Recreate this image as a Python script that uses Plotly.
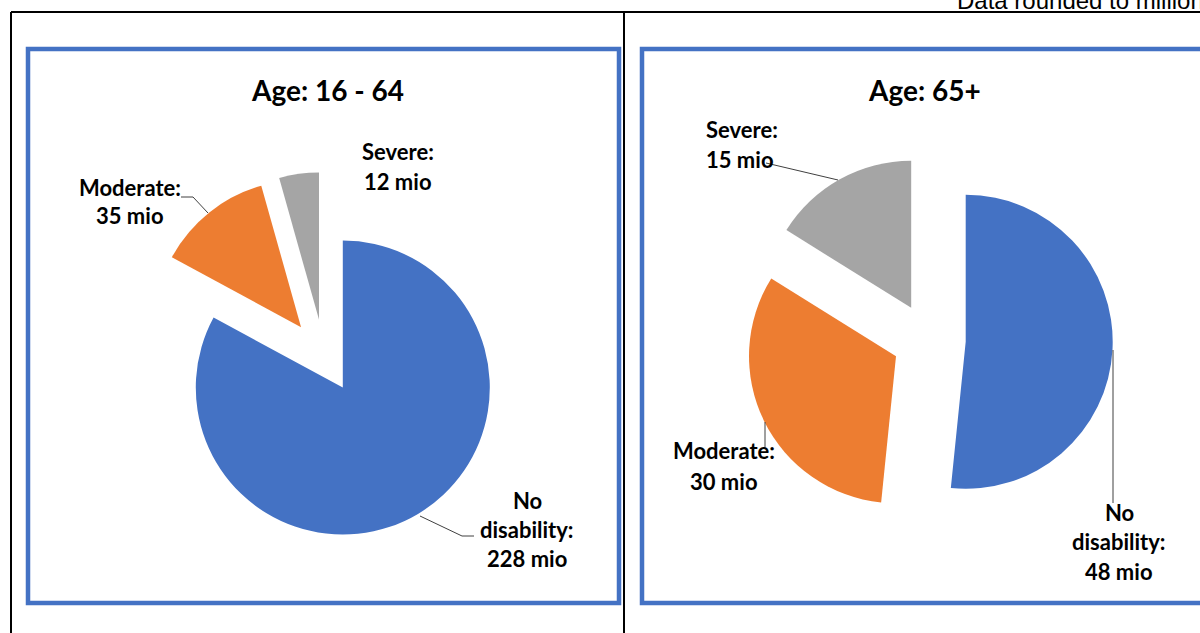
import plotly.graph_objects as go

W, H = 1200, 633

# ---- data ----
categories = ["No disability", "Moderate", "Severe"]
values_16_64 = [228, 35, 12]
values_65p = [48, 30, 15]
colors = ["#4472C4", "#ED7D31", "#A5A5A5"]
titles = ["Age: 16 - 64", "Age: 65+"]
note = "Data rounded to millions"


def px(x):
    return x / W


def py(y):
    return 1 - y / H


def dom(cx, cy, half):
    return dict(x=[px(cx - half), px(cx + half)], y=[py(cy + half), py(cy - half)])


half = 183.75
fig = go.Figure()
for vals, (cx, cy) in [(values_16_64, (324, 356)), (values_65p, (929, 340))]:
    fig.add_trace(go.Pie(
        labels=categories, values=vals, sort=False, direction="clockwise",
        rotation=0, pull=[0.25, 0.25, 0.25],
        marker=dict(colors=colors, line=dict(width=0)),
        textinfo="none", hoverinfo="label+value", showlegend=False,
        domain=dom(cx, cy, half),
    ))

shapes = []
# table lines
blk = dict(color="black", width=2)
shapes.append(dict(type="line", xref="paper", yref="paper", x0=px(11), x1=px(1200), y0=py(12), y1=py(12), line=blk))
shapes.append(dict(type="line", xref="paper", yref="paper", x0=px(11), x1=px(11), y0=py(12), y1=py(640), line=blk))
shapes.append(dict(type="line", xref="paper", yref="paper", x0=px(624), x1=px(624), y0=py(12), y1=py(640), line=blk))
# blue frames
bl = dict(color="#4472C4", width=4.5)
shapes.append(dict(type="rect", xref="paper", yref="paper", x0=px(28), x1=px(619), y0=py(603), y1=py(49), line=bl))
shapes.append(dict(type="rect", xref="paper", yref="paper", x0=px(642), x1=px(1210), y0=py(603), y1=py(49), line=bl))


def path(points):
    s = "M " + " L ".join(f"{px(x)},{py(y)}" for x, y in points)
    return dict(type="path", xref="paper", yref="paper", path=s, line=dict(color="#404040", width=1))


# leader lines
shapes.append(path([(181, 197), (193, 197), (208, 213)]))
shapes.append(path([(420, 516), (462, 536), (474, 536)]))
shapes.append(path([(766, 163), (838, 180)]))
shapes.append(path([(765, 422), (765, 447)]))
shapes.append(path([(1113, 350), (1113, 503)]))

LBL = dict(family="Lato", size=22, color="black", weight="bold")
TTL = dict(family="Lato", size=28, color="black", weight="bold")

ann = []


def txt(t, x, y, font):
    ann.append(dict(text=t, x=px(x), y=py(y), xref="paper", yref="paper",
                    showarrow=False, xanchor="center", yanchor="middle", font=font))


txt(f"<b>{titles[0]}</b>", 327, 90, TTL)
txt(f"<b>{titles[1]}</b>", 924, 90, TTL)

labels_left = [
    (f"{categories[1]}:", 130, 187), (f"{values_16_64[1]} mio", 130, 216),
    (f"{categories[2]}:", 398, 151), (f"{values_16_64[2]} mio", 398, 181),
    ("No", 527, 500), ("disability:", 527, 529), (f"{values_16_64[0]} mio", 527, 558),
]
labels_right = [
    (f"{categories[2]}:", 742, 129), (f"{values_65p[2]} mio", 740, 159),
    (f"{categories[1]}:", 724, 451), (f"{values_65p[1]} mio", 724, 481),
    ("No", 1119, 512), ("disability:", 1119, 541), (f"{values_65p[0]} mio", 1119, 571),
]
for t, x, y in labels_left + labels_right:
    txt(f"<b>{t}</b>", x, y, LBL)

ann.append(dict(text=note, x=px(955), y=py(16), xref="paper", yref="paper",
                showarrow=False, xanchor="left", yanchor="bottom",
                font=dict(family="Liberation Sans", size=24, color="black")))

fig.update_layout(
    width=W, height=H, margin=dict(l=0, r=0, t=0, b=0),
    paper_bgcolor="white", plot_bgcolor="white",
    shapes=shapes, annotations=ann,
)
fig.write_html("out.html", config={"displayModeBar": False},
               post_script="document.body.style.margin='0';document.body.style.overflow='hidden';")
